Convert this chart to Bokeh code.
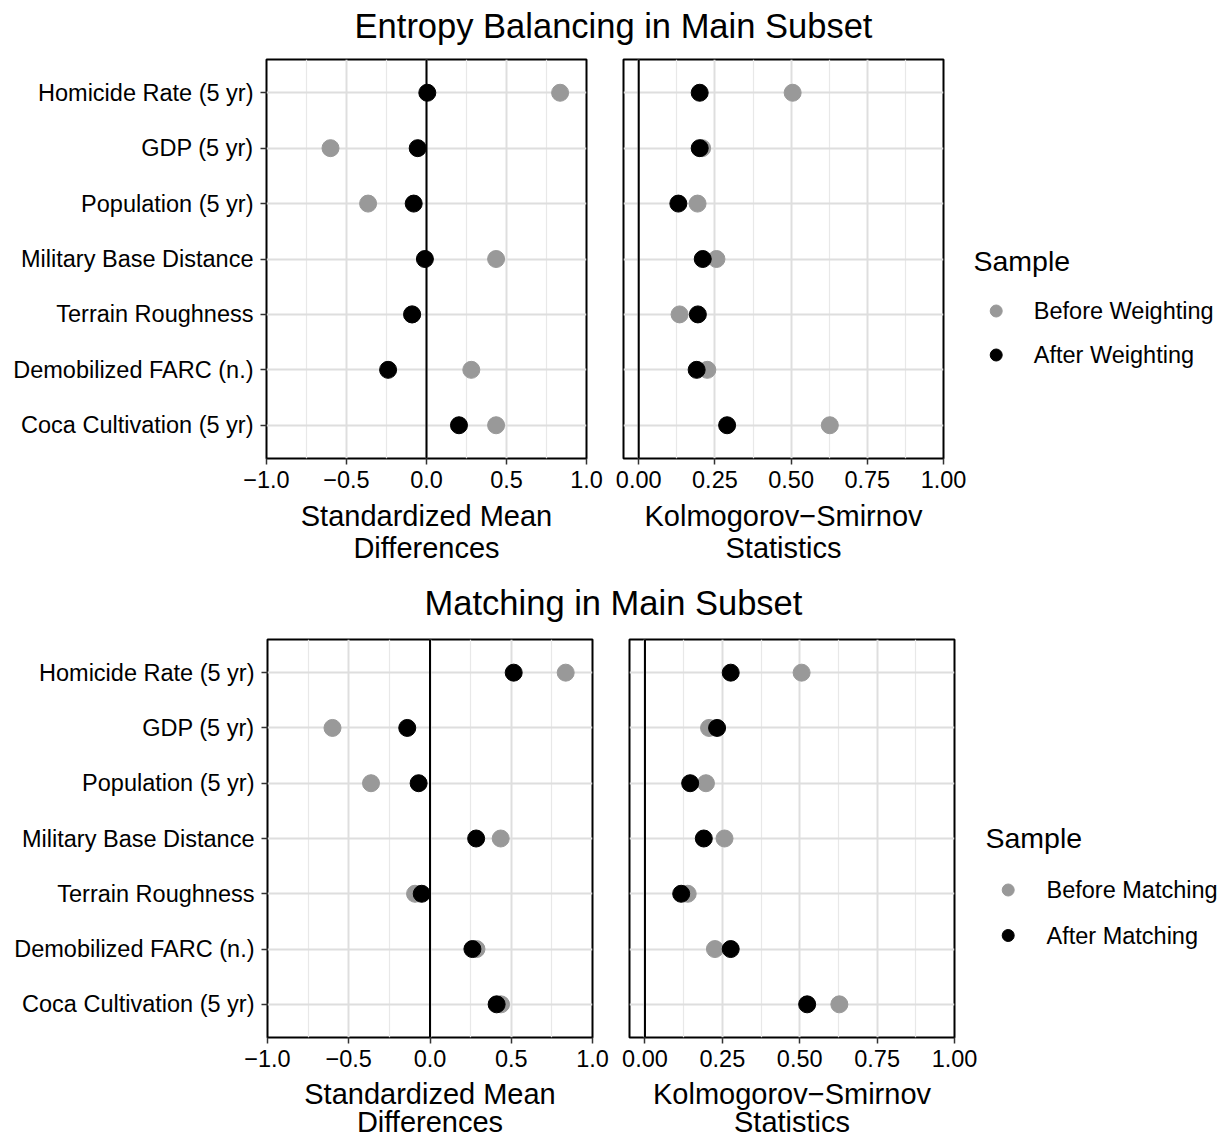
from bokeh.plotting import figure
from bokeh.layouts import column, row
from bokeh.models import (FactorRange, Range1d, FixedTicker, Span,
                          ColumnDataSource, CustomJSTickFormatter)
from bokeh.core.properties import value
from bokeh.embed import file_html
from bokeh.resources import INLINE

# ---------------- data ----------------
variables = ["Homicide Rate (5 yr)", "GDP (5 yr)", "Population (5 yr)",
             "Military Base Distance", "Terrain Roughness",
             "Demobilized FARC (n.)", "Coca Cultivation (5 yr)"]

# Entropy balancing
eb_smd_before = [0.835, -0.60, -0.365, 0.435, -0.09, 0.28, 0.435]
eb_smd_after = [0.005, -0.055, -0.08, -0.01, -0.09, -0.24, 0.203]
eb_ks_before = [0.505, 0.208, 0.193, 0.255, 0.134, 0.225, 0.627]
eb_ks_after = [0.200, 0.200, 0.130, 0.210, 0.194, 0.190, 0.290]

# Matching
m_smd_before = [0.835, -0.60, -0.363, 0.435, -0.092, 0.286, 0.437]
m_smd_after = [0.515, -0.14, -0.07, 0.284, -0.051, 0.261, 0.41]
m_ks_before = [0.506, 0.207, 0.197, 0.257, 0.138, 0.226, 0.628]
m_ks_after = [0.277, 0.233, 0.146, 0.190, 0.117, 0.277, 0.524]

smd_ticks = [-1.0, -0.5, 0.0, 0.5, 1.0]
smd_tick_labels = ["\u22121.0", "\u22120.5", "0.0", "0.5", "1.0"]
smd_minor = [-0.75, -0.25, 0.25, 0.75]
ks_ticks = [0.0, 0.25, 0.5, 0.75, 1.0]
ks_tick_labels = ["0.00", "0.25", "0.50", "0.75", "1.00"]
ks_minor = [0.125, 0.375, 0.625, 0.875]

titles = ["Entropy Balancing in Main Subset", "Matching in Main Subset"]
smd_title = ["Standardized Mean", "Differences"]
ks_title = ["Kolmogorov\u2212Smirnov", "Statistics"]
legend_title = "Sample"
legend_labels_eb = ["Before Weighting", "After Weighting"]
legend_labels_m = ["Before Matching", "After Matching"]

# ---------------- style ----------------
FONT = "Liberation Sans"
GRAY = "#999999"
TOTAL_W = 1226
TOTAL_H = 1139
TICK_FS = "23.5px"
AXT_FS = 29
TITLE_FS = 34.5


def make_panel(before, after, x_start, x_end, ticks, labels, minor,
               frame_w, frame_h, left, right, bottom, y_range, show_y):
    src = ColumnDataSource(dict(var=variables, before=before, after=after))
    p = figure(x_range=Range1d(x_start, x_end), y_range=y_range,
               frame_width=frame_w, frame_height=frame_h,
               min_border_left=left, min_border_right=right,
               min_border_top=4, min_border_bottom=bottom,
               toolbar_location=None, output_backend="svg",
               y_axis_location="left" if show_y else None)
    p.background_fill_color = "white"
    p.border_fill_color = "white"
    p.outline_line_color = "black"
    p.outline_line_width = 2

    p.add_layout(Span(location=0, dimension="height", line_color="black",
                      line_width=2, level="underlay"))
    p.scatter(x="before", y="var", source=src, size=17, color=GRAY)
    p.scatter(x="after", y="var", source=src, size=17, color="black")

    xa = p.xaxis[0]
    xa.ticker = FixedTicker(ticks=ticks, minor_ticks=minor)
    xa.formatter = CustomJSTickFormatter(
        args=dict(tv=ticks, tl=labels),
        code="const i = tv.findIndex(t => Math.abs(t - tick) < 1e-9); return i >= 0 ? tl[i] : '';")
    xa.axis_line_color = None
    xa.major_tick_out = 6
    xa.major_tick_in = 0
    xa.major_tick_line_width = 1.5
    xa.major_tick_line_color = "#333333"
    xa.minor_tick_line_color = None
    xa.major_label_standoff = 6
    xa.major_label_text_font = FONT
    xa.major_label_text_font_size = TICK_FS
    xa.major_label_text_color = "black"

    if show_y:
        ya = p.yaxis[0]
        ya.axis_line_color = None
        ya.major_tick_out = 6
        ya.major_tick_in = 0
        ya.major_tick_line_width = 1.5
        ya.major_tick_line_color = "#333333"
        ya.major_label_standoff = 7
        ya.major_label_text_font = FONT
        ya.major_label_text_font_size = TICK_FS
        ya.major_label_text_color = "black"

    p.xgrid.grid_line_color = "#DEDEDE"
    p.xgrid.grid_line_width = 2
    p.xgrid.minor_grid_line_color = "#E8E8E8"
    p.xgrid.minor_grid_line_width = 1.2
    p.ygrid.grid_line_color = "#DEDEDE"
    p.ygrid.grid_line_width = 2
    return p


def blank(w, h):
    f = figure(x_range=Range1d(0, w), y_range=Range1d(h, 0),
               frame_width=w, frame_height=h, min_border=0,
               toolbar_location=None, output_backend="svg",
               x_axis_location=None, y_axis_location=None)
    f.xgrid.visible = False
    f.ygrid.visible = False
    f.outline_line_color = None
    f.background_fill_color = "white"
    f.border_fill_color = "white"
    return f


def add_text(f, xs, ys, texts, size, align="center"):
    f.text(x=xs, y=ys, text=texts, text_font=value(FONT),
           text_font_size=value(f"{size}px"), text_align=align,
           text_baseline="middle", text_color="black")


def legend_fig(w, h, labels, tx, ty, dx, dys, lx):
    f = blank(w, h)
    add_text(f, [tx], [ty], [legend_title], 28.5, align="left")
    f.scatter(x=[dx, dx], y=dys, color=[GRAY, "black"], size=12)
    add_text(f, [lx, lx], dys, labels, 23.5, align="left")
    return f


def y_range_new():
    return FactorRange(factors=list(reversed(variables)),
                       range_padding=0.2 / len(variables),
                       range_padding_units="percent")

# ---------------- row 1: entropy balancing ----------------
S1_h = 55
yr1 = y_range_new()
A_left, A_fw, A_right = 266, 320, 18
B_left, B_fw, B_right = 19, 320, 25
BOT1 = 40
pA = make_panel(eb_smd_before, eb_smd_after, -1.0, 1.0, smd_ticks,
                smd_tick_labels, smd_minor, A_fw, 399, A_left, A_right, BOT1, yr1, True)
pB = make_panel(eb_ks_before, eb_ks_after, -0.05, 1.0, ks_ticks,
                ks_tick_labels, ks_minor, B_fw, 399, B_left, B_right, BOT1, yr1, False)
row1_h = 4 + 399 + BOT1
L1_w = TOTAL_W - (A_left + A_fw + A_right) - (B_left + B_fw + B_right)
L1 = legend_fig(L1_w, row1_h, legend_labels_eb, 5, 201, 27.7, [251.5, 295.5], 65.3)

# ---------------- row 2: matching ----------------
yr2 = y_range_new()
D_left, D_fw, D_right = 267, 325, 18
E_left, E_fw, E_right = 19, 325, 25
BOT2 = 39
pD = make_panel(m_smd_before, m_smd_after, -1.0, 1.0, smd_ticks,
                smd_tick_labels, smd_minor, D_fw, 398, D_left, D_right, BOT2, yr2, True)
pE = make_panel(m_ks_before, m_ks_after, -0.05, 1.0, ks_ticks,
                ks_tick_labels, ks_minor, E_fw, 398, E_left, E_right, BOT2, yr2, False)
row2_h = 4 + 398 + BOT2
L2_w = TOTAL_W - (D_left + D_fw + D_right) - (E_left + E_fw + E_right)
L2 = legend_fig(L2_w, row2_h, legend_labels_m, 6, 198, 28.7, [250.5, 296], 67)

# ---------------- text strips ----------------
cA = A_left + A_fw / 2
cB = A_left + A_fw + A_right + B_left + B_fw / 2
cD = D_left + D_fw / 2
cE = D_left + D_fw + D_right + E_left + E_fw / 2

S1 = blank(TOTAL_W, S1_h)
add_text(S1, [TOTAL_W / 2], [25], [titles[0]], TITLE_FS)

S2_top = S1_h + row1_h
S2_h = 635 - S2_top
S2 = blank(TOTAL_W, S2_h)
add_text(S2, [cA, cA, cB, cB], [17.5, 49, 17.5, 49],
         [smd_title[0], smd_title[1], ks_title[0], ks_title[1]], AXT_FS)
add_text(S2, [TOTAL_W / 2], [602.5 - S2_top], [titles[1]], TITLE_FS)

S3_h = TOTAL_H - (S1_h + row1_h + S2_h + row2_h)
S3 = blank(TOTAL_W, S3_h)
add_text(S3, [cD, cD, cE, cE], [17.5, 45.5, 17.5, 45.5],
         [smd_title[0], smd_title[1], ks_title[0], ks_title[1]], AXT_FS)

layout = column(S1, row(pA, pB, L1), S2, row(pD, pE, L2), S3)

open("out.html", "w").write(file_html(layout, INLINE))
